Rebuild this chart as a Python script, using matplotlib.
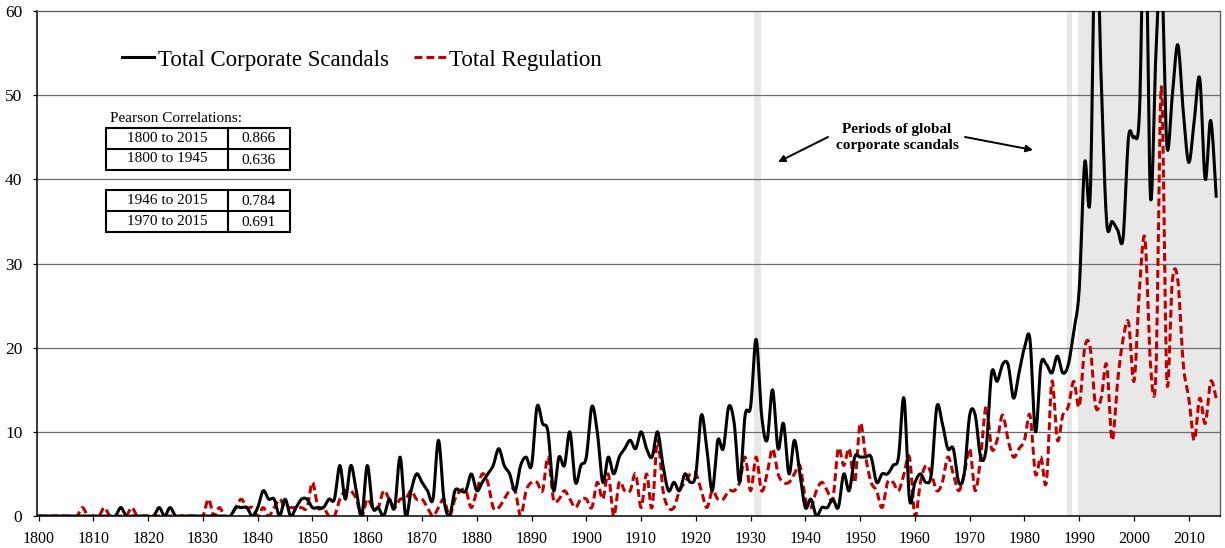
import numpy as np
import matplotlib
matplotlib.use('Agg')
import matplotlib.pyplot as plt
from matplotlib.patches import Rectangle
from matplotlib.lines import Line2D

plt.rcParams['font.family'] = ['Liberation Serif', 'DejaVu Serif']

years = list(range(1800, 2016))

# Total Corporate Scandals, one value per year 1800-2015
scandals = [
    0, 0, 0, 0, 0, 0, 0, 0, 0, 0,            # 1800s
    0, 0, 0, 0, 0, 1, 0, 0, 0, 0,            # 1810s
    0, 0, 1, 0, 1, 0, 0, 0, 0, 0,            # 1820s
    0, 0, 0, 0, 0, 0, 1, 1, 1, 0,            # 1830s
    1, 3, 2, 2, 0, 2, 0, 1, 2, 2,            # 1840s
    1, 1, 1, 2, 2, 6, 2, 6, 3, 0,            # 1850s
    6, 1, 1, 0, 2, 1, 7, 0, 3, 5,            # 1860s
    4, 3, 2, 9, 2, 0, 3, 3, 3, 5,            # 1870s
    3, 4, 5, 6, 8, 6, 5, 3, 6, 7,            # 1880s
    6, 13, 11, 10, 3, 7, 6, 10, 4, 6,        # 1890s
    7, 13, 10, 4, 7, 5, 7, 8, 9, 8,          # 1900s
    10, 8, 7, 10, 6, 3, 4, 3, 5, 4,          # 1910s
    5, 12, 8, 3, 9, 8, 13, 11, 4, 12,        # 1920s
    13, 21, 12, 9, 15, 8, 11, 5, 9, 5,       # 1930s
    1, 2, 0, 1, 1, 2, 1, 5, 3, 7,            # 1940s
    7, 7, 7, 4, 5, 5, 6, 7, 14, 2,           # 1950s
    4, 5, 4, 5, 13, 11, 8, 8, 4, 5,          # 1960s
    12, 12, 7, 8, 17, 16, 18, 18, 14, 17,    # 1970s
    20, 21, 10, 18, 18, 17, 19, 17, 18, 22,  # 1980s
    27, 42, 38, 72, 52, 35, 35, 34, 33, 45,  # 1990s
    45, 48, 75, 38, 55, 65, 44, 50, 56, 48,  # 2000s
    42, 47, 52, 40, 47, 38,                  # 2010-2015
]

# Total Regulation, one value per year 1800-2015
regulation = [
    0, 0, 0, 0, 0, 0, 0, 0, 1, 0,
    0, 0, 1, 0, 0, 0, 0, 1, 0, 0,
    0, 0, 0, 0, 0, 0, 0, 0, 0, 0,
    0, 2, 0, 1, 0, 0, 1, 2, 1, 1,
    0, 1, 0, 1, 2, 1, 1, 1, 1, 1,
    4, 1, 1, 0, 0, 2, 3, 3, 2, 0,
    2, 1, 1, 3, 2, 1, 2, 2, 3, 2,
    2, 1, 0, 1, 2, 0, 2, 3, 3, 1,
    3, 5, 4, 1, 1, 2, 3, 3, 0, 3,
    4, 4, 3, 7, 2, 2, 3, 2, 1, 2,
    2, 1, 4, 2, 5, 0, 4, 3, 3, 5,
    1, 5, 1, 9, 3, 1, 1, 3, 4, 5,
    5, 3, 1, 3, 2, 2, 3, 3, 4, 7,
    3, 7, 3, 5, 8, 5, 4, 4, 5, 6,
    2, 1, 3, 4, 3, 2, 8, 6, 8, 4,
    11, 7, 4, 3, 1, 4, 4, 3, 5, 7,
    0, 4, 6, 5, 3, 4, 7, 5, 3, 5,
    8, 3, 7, 13, 8, 9, 12, 9, 7, 8,
    9, 12, 5, 7, 4, 16, 9, 12, 13, 16,
    13, 20, 20, 13, 14, 18, 9, 16, 21, 23,
    16, 27, 33, 18, 17, 51, 16, 28, 28, 18,
    14, 9, 14, 11, 16, 14,
]

# shaded "periods of global corporate scandals"
periods = [(1930.6, 1931.9), (1987.8, 1988.7), (1989.8, 2016.0)]

corr_top = [("1800 to 2015", "0.866"), ("1800 to 1945", "0.636")]
corr_bottom = [("1946 to 2015", "0.784"), ("1970 to 2015", "0.691")]

W, H = 1225, 548


def smooth(x, y, n=12):
    # excel style smoothed line (bezier through every point)
    p = np.column_stack([x, y]).astype(float)
    pp = np.vstack([p[:1], p, p[-1:]])
    t = np.linspace(0, 1, n, endpoint=False)[:, None]
    out = []
    for i in range(len(p) - 1):
        p0, p1, p2, p3 = pp[i], pp[i + 1], pp[i + 2], pp[i + 3]
        c1 = p1 + (p2 - p0) / 6
        c2 = p2 - (p3 - p1) / 6
        seg = ((1 - t) ** 3) * p1 + 3 * ((1 - t) ** 2) * t * c1 + 3 * (1 - t) * t ** 2 * c2 + t ** 3 * p2
        out.append(seg)
    out.append(p[-1:])
    out = np.vstack(out)
    return out[:, 0], out[:, 1]


def fx(px):
    return px / W


def fy(py):
    return 1 - py / H


fig = plt.figure(figsize=(W / 100, H / 100), dpi=100)
ax = fig.add_axes([fx(37), fy(516), (1220 - 37) / W, (516 - 11) / H])

for a, b in periods:
    ax.axvspan(a, b, color='#e8e8e8', lw=0, zorder=0)

for v in range(10, 60, 10):
    ax.axhline(v, color='#6e6e6e', lw=0.9, zorder=1)

sx, sy = smooth(years, scandals)
ax.plot(sx, sy, color='black', lw=2.2, solid_joinstyle='round', zorder=3,
        label='Total Corporate Scandals')
rx, ry = smooth(years, regulation)
ax.plot(rx, ry, color='#c00000', lw=2.2, dashes=(2.6, 1.3), zorder=2,
        label='Total Regulation')

ax.set_xlim(1799.7, 2015.7)
ax.set_ylim(0, 60)
ax.set_xticks(range(1800, 2011, 10))
ax.set_yticks(range(0, 61, 10))
ax.tick_params(axis='x', direction='out', length=3.5, width=0.9, labelsize=11.5, pad=7)
ax.tick_params(axis='y', direction='out', length=3, width=0.9, labelsize=12.5, pad=7.5)
for s in ['left', 'bottom']:
    ax.spines[s].set_color('black')
    ax.spines[s].set_linewidth(1.1)
for s in ['top', 'right']:
    ax.spines[s].set_color('#555555')
    ax.spines[s].set_linewidth(0.9)

fig.legend(loc='center left', bbox_to_anchor=(fx(122), fy(60)), ncol=2, frameon=False,
           handlelength=1.4, handletextpad=0.15, columnspacing=1.1, borderpad=0,
           borderaxespad=0, fontsize=16.5)

# annotation with arrows
fig.text(fx(897), fy(137.5), 'Periods of global\ncorporate scandals', ha='center', va='center',
         fontsize=11, fontweight='bold', linespacing=1.4)
ap = dict(arrowstyle='-|>', color='black', lw=1.4, mutation_scale=10, shrinkA=0, shrinkB=0)
ax.annotate('', xy=(778, H - 162), xytext=(828, H - 137), xycoords='figure pixels',
            textcoords='figure pixels', arrowprops=ap)
ax.annotate('', xy=(1033, H - 150), xytext=(965, H - 137), xycoords='figure pixels',
            textcoords='figure pixels', arrowprops=ap)

# correlation tables
fig.text(fx(110), fy(119), 'Pearson Correlations:', ha='left', va='center', fontsize=11)


def draw_table(rows, top):
    h = 21
    x0, x1, xm = 105.5, 290, 228.5
    fig.add_artist(Rectangle((fx(x0), fy(top + 2 * h)), (x1 - x0) / W, 2 * h / H,
                             transform=fig.transFigure, fill=False, ec='black', lw=1.5))
    fig.add_artist(Line2D([fx(xm), fx(xm)], [fy(top), fy(top + 2 * h)],
                          transform=fig.transFigure, color='black', lw=1.5))
    fig.add_artist(Line2D([fx(x0), fx(x1)], [fy(top + h), fy(top + h)],
                          transform=fig.transFigure, color='black', lw=1.5))
    for i, (period, val) in enumerate(rows):
        yc = top + h * i + h / 2
        fig.text(fx(167), fy(yc), period, ha='center', va='center', fontsize=11)
        fig.text(fx(259), fy(yc + 1), val, ha='center', va='center', fontsize=11)


draw_table(corr_top, 127.5)
draw_table(corr_bottom, 190)

fig.savefig('out.png', dpi=100)
